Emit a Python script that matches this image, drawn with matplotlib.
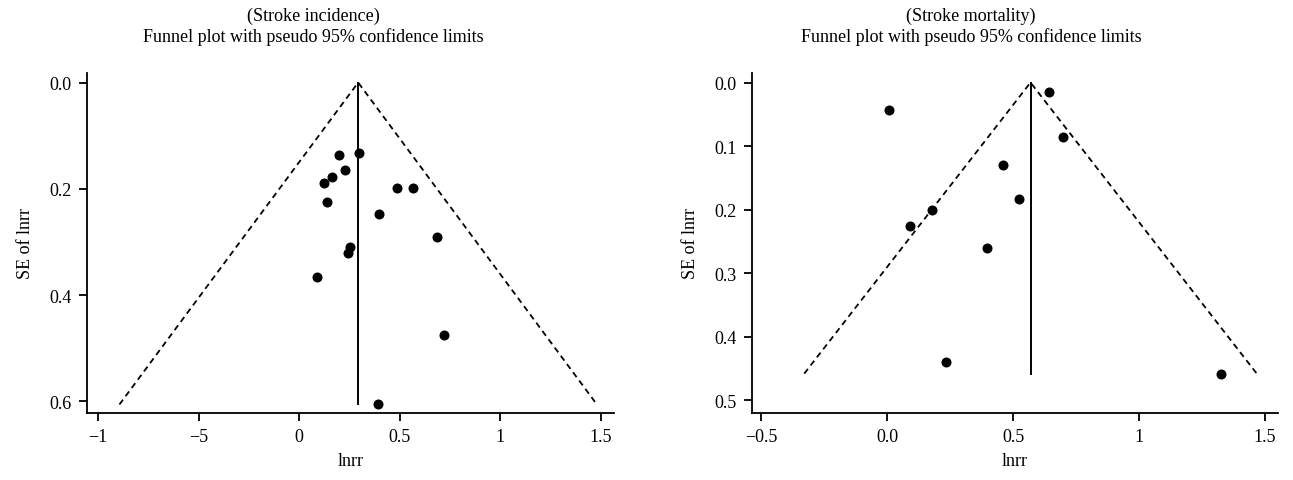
import matplotlib
matplotlib.use("Agg")
import matplotlib.pyplot as plt
import numpy as np

plt.rcParams['font.family'] = ['Liberation Serif', 'DejaVu Serif']

# ---- Stroke incidence data ----
inc_lnrr = [0.201, 0.300, 0.226, 0.164, 0.126, 0.139, 0.489, 0.569, 0.398,
            0.687, 0.252, 0.242, 0.091, 0.723, 0.391]
inc_se = [0.136, 0.133, 0.164, 0.178, 0.190, 0.224, 0.199, 0.199, 0.248,
          0.291, 0.309, 0.321, 0.366, 0.475, 0.606]
inc_pooled = 0.294
inc_xticks = [-1, -0.5, 0, 0.5, 1, 1.5]
inc_xticklabels = ['\u22121', '\u22125', '0', '0.5', '1', '1.5']
inc_yticks = [0.0, 0.2, 0.4, 0.6]
inc_yticklabels = ['0.0', '0.2', '0.4', '0.6']

# ---- Stroke mortality data ----
mor_lnrr = [0.007, 0.642, 0.698, 0.460, 0.524, 0.179, 0.090, 0.396, 0.234, 1.324]
mor_se = [0.044, 0.0145, 0.086, 0.130, 0.183, 0.201, 0.226, 0.260, 0.439, 0.458]
mor_pooled = 0.569
mor_xticks = [-0.5, 0, 0.5, 1, 1.5]
mor_xticklabels = ['\u22120.5', '0.0', '0.5', '1', '1.5']
mor_yticks = [0.0, 0.1, 0.2, 0.3, 0.4, 0.5]
mor_yticklabels = ['0.0', '0.1', '0.2', '0.3', '0.4', '0.5']

subtitles = ['(Stroke incidence)', '(Stroke mortality)']
main_title = 'Funnel plot with pseudo 95% confidence limits'

W, H = 1293, 481
fig = plt.figure(figsize=(W / 100, H / 100), dpi=100)
ax1 = fig.add_axes([0.0673, 0.1393, 0.4076, 0.7069])
ax2 = fig.add_axes([0.5816, 0.1393, 0.4068, 0.7069])

FS = 13

def draw(ax, x, se, pooled, xt, xtl, yt, ytl, xlim, ylim, sub, title_cx):
    semax = max(se)
    ax.plot([pooled - 1.96 * semax, pooled, pooled + 1.96 * semax],
            [semax, 0, semax], color='black', lw=1.3, ls=(0, (3.3, 2.4)))
    ax.plot([pooled, pooled], [0, semax], color='black', lw=1.4)
    ax.plot(x, se, 'o', color='black', ms=6.2, ls='none')
    ax.set_xlim(*xlim)
    ax.set_ylim(*ylim)
    ax.set_xticks(xt)
    ax.set_xticklabels(xtl, fontsize=FS)
    ax.set_yticks(yt)
    ax.set_yticklabels(ytl, fontsize=FS)
    for s in ['top', 'right']:
        ax.spines[s].set_visible(False)
    for s in ['left', 'bottom']:
        ax.spines[s].set_linewidth(1.3)
    ax.tick_params(direction='out', length=6, width=1.3, pad=5)
    ax.set_xlabel('lnrr', fontsize=FS, labelpad=5)
    ax.set_ylabel('SE of lnrr', fontsize=FS, labelpad=11)
    fig.text(title_cx / W, 1 - 16 / H, sub, ha='center', va='center', fontsize=FS)
    fig.text(title_cx / W, 1 - 37 / H, main_title, ha='center', va='center', fontsize=FS)

draw(ax1, inc_lnrr, inc_se, inc_pooled, inc_xticks, inc_xticklabels,
     inc_yticks, inc_yticklabels, (-1.055, 1.567), (0.622, -0.018), subtitles[0], 313)
draw(ax2, mor_lnrr, mor_se, mor_pooled, mor_xticks, mor_xticklabels,
     mor_yticks, mor_yticklabels, (-0.536, 1.551), (0.52, -0.015), subtitles[1], 971)

fig.savefig('out.png', dpi=100)
